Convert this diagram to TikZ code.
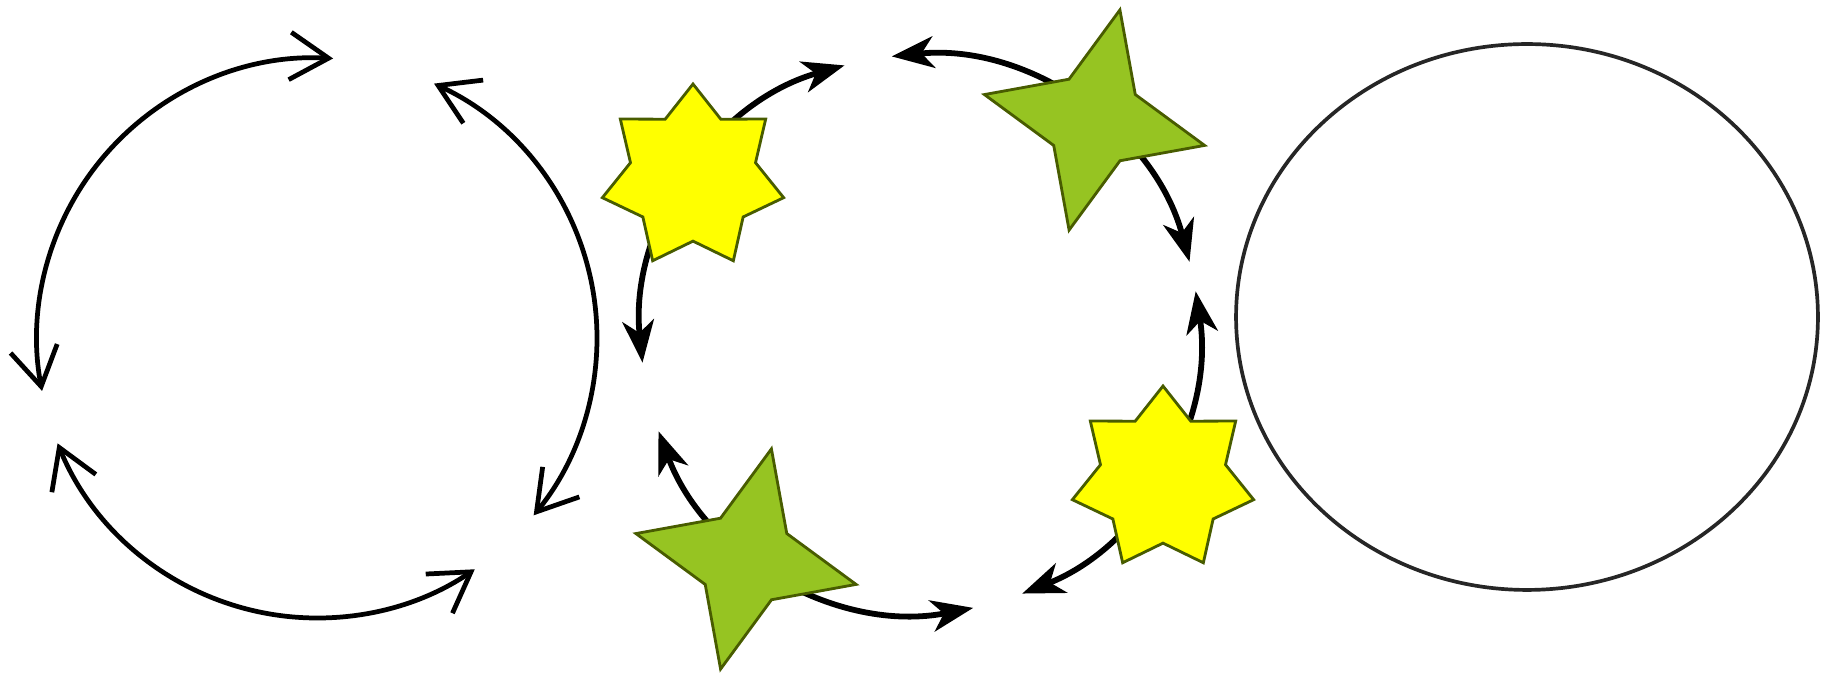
\documentclass[tikz,border=0pt]{standalone}
\usepackage{tikz}
\usetikzlibrary{shapes.geometric, arrows.meta}
\definecolor{starEdge}{RGB}{72, 92, 0}
\definecolor{starYellow}{RGB}{255, 255, 0}
\definecolor{leafGreen}{RGB}{150, 196, 34}

\begin{document}
\begin{tikzpicture}[x=0.02cm, y=0.02cm,
        barbarc/.style={line width=2.7pt, {Straight Barb[length=22pt, width=27pt]}-{Straight Barb[length=22pt, width=27pt]}},
        stealtharc/.style={line width=3.3pt, {Stealth[length=24pt, width=18pt, inset=7pt]}-{Stealth[length=24pt, width=18pt, inset=7pt]}},
        sunstar/.style={star, star points=7, star point ratio=1.45, minimum size=3.72cm, inner sep=0pt,
                        draw=starEdge, fill=starYellow, line width=1.6pt},
        leafstar/.style={star, star points=4, star point ratio=2.35, minimum size=4.52cm, inner sep=0pt,
                         rotate=-13, draw=starEdge, fill=leafGreen, line width=1.6pt},
        ring/.style={ellipse, draw=black!85, line width=2.1pt, minimum width=11.64cm, minimum height=10.92cm, inner sep=0pt}]
            \useasboundingbox (0,0) rectangle (1833,675);
            \coordinate (leftc) at (317,337);
            \coordinate (midc) at (920,341);

            \draw[barbarc] (leftc) ++(86.7:280) arc[start angle=86.7, end angle=190.9, radius=280];
            \draw[barbarc] (leftc) ++(65.3:280) arc[start angle=65.3, end angle=-39.3, radius=280];
            \draw[barbarc] (leftc) ++(202.1:280) arc[start angle=202.1, end angle=304.3, radius=280];

            \draw[stealtharc] (midc) ++(105.7:279) arc[start angle=105.7, end angle=185.9, radius=279];
            \draw[stealtharc] (midc) ++(95.8:279) arc[start angle=95.8, end angle=15, radius=279];
            \draw[stealtharc] (midc) ++(8.8:279) arc[start angle=8.8, end angle=-68.5, radius=279];
            \draw[stealtharc] (midc) ++(-79:279) arc[start angle=-79, end angle=-159.6, radius=279];

            \node[sunstar] (sunA) at (693,498) {};
            \node[leafstar] (leafA) at (1094.5,555) {};
            \node[sunstar] (sunB) at (1163,196) {};
            \node[leafstar] (leafB) at (746,116) {};

            \node[ring] (bubble) at (1527,358) {};
        \end{tikzpicture}
\end{document}
